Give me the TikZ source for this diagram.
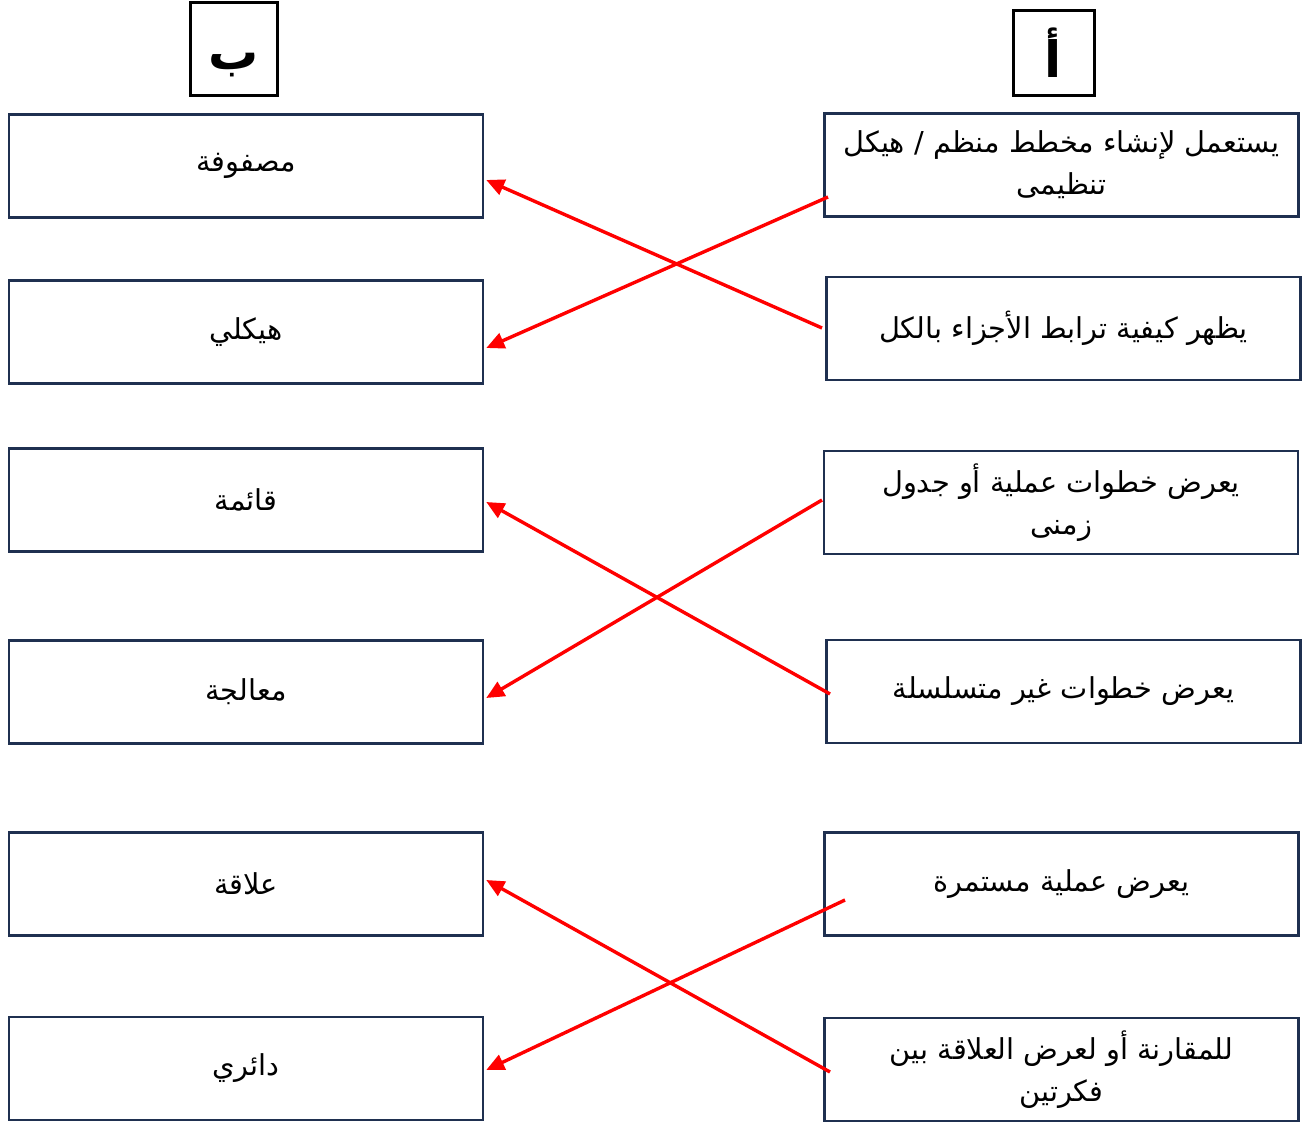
\documentclass[tikz,border=0pt]{standalone}
\usepackage{fontspec}
\usetikzlibrary{arrows.meta,calc}
\TeXXeTstate=1
\newfontfamily\arabicfont[Script=Arabic]{DejaVu Sans}
\definecolor{boxnavy}{HTML}{1F3050}
\definecolor{arrred}{HTML}{FF0000}
\begin{document}
\begin{tikzpicture}[x=0.5pt,y=-0.5pt,
  itembox/.style={draw=boxnavy,line width=1.25pt,minimum width=237pt,minimum height=51.5pt,inner sep=0pt,align=center,font=\arabicfont\fontsize{14.4}{21}\selectfont},
  headbox/.style={draw=black,line width=1.5pt,inner sep=0pt},
  headletter/.style={anchor=base,inner sep=0pt,font=\arabicfont\bfseries\fontsize{25}{25}\selectfont},
  link/.style={draw=arrred,line width=1.7pt,-{Triangle[length=9pt,width=8pt]}}]
\useasboundingbox (0,0) rectangle (1309,1122);
% headers
\node[headbox,minimum width=43.5pt,minimum height=46.5pt] (hb) at (233.5,49.5) {};
\node[headletter] (hbl) at (233.5,70) {\beginR ب\endR};
\node[headbox,minimum width=40.5pt,minimum height=42.5pt] (ha) at (1053.5,53.5) {};
\node[headletter] (hal) at (1053.5,78) {\beginR أ\endR};
% left column
\node[itembox] (l1) at (246,166) {\beginR مصفوفة\endR};
\node[itembox] (l2) at (246,332) {\beginR هيكلي\endR};
\node[itembox] (l3) at (246,500) {\beginR قائمة\endR};
\node[itembox] (l4) at (246,692) {\beginR معالجة\endR};
\node[itembox] (l5) at (246,884) {\beginR علاقة\endR};
\node[itembox] (l6) at (246,1068.5) {\beginR دائري\endR};
% right column
\node[itembox] (r1) at (1061.5,165) {\beginR يستعمل لإنشاء مخطط منظم / هيكل\endR\\\beginR تنظيمى\endR};
\node[itembox] (r2) at (1063.5,328.5) {\beginR يظهر كيفية ترابط الأجزاء بالكل\endR};
\node[itembox] (r3) at (1061,502.5) {\beginR يعرض خطوات عملية أو جدول\endR\\\beginR زمنى\endR};
\node[itembox] (r4) at (1063.5,691.5) {\beginR يعرض خطوات غير متسلسلة\endR};
\node[itembox] (r5) at (1061.5,884) {\beginR يعرض عملية مستمرة\endR};
\node[itembox] (r6) at (1061.5,1069.5) {\beginR للمقارنة أو لعرض العلاقة بين\endR\\\beginR فكرتين\endR};
% arrow start / tip points
\coordinate (s1) at (828,197);
\coordinate (s2) at (822,328);
\coordinate (s3) at (822,500);
\coordinate (s4) at (830,694);
\coordinate (s5) at (845,900);
\coordinate (s6) at (830,1072);
\coordinate (t1) at ($(l2.east)+(2,16)$);
\coordinate (t2) at ($(l1.east)+(2,14)$);
\coordinate (t3) at ($(l4.east)+(2,6)$);
\coordinate (t4) at ($(l3.east)+(2,2)$);
\coordinate (t5) at ($(l6.east)+(2,1.5)$);
\coordinate (t6) at ($(l5.east)+(2,-4)$);
\draw[link] (s1) -- (t1);
\draw[link] (s2) -- (t2);
\draw[link] (s3) -- (t3);
\draw[link] (s4) -- (t4);
\draw[link] (s5) -- (t5);
\draw[link] (s6) -- (t6);
\end{tikzpicture}
\end{document}
